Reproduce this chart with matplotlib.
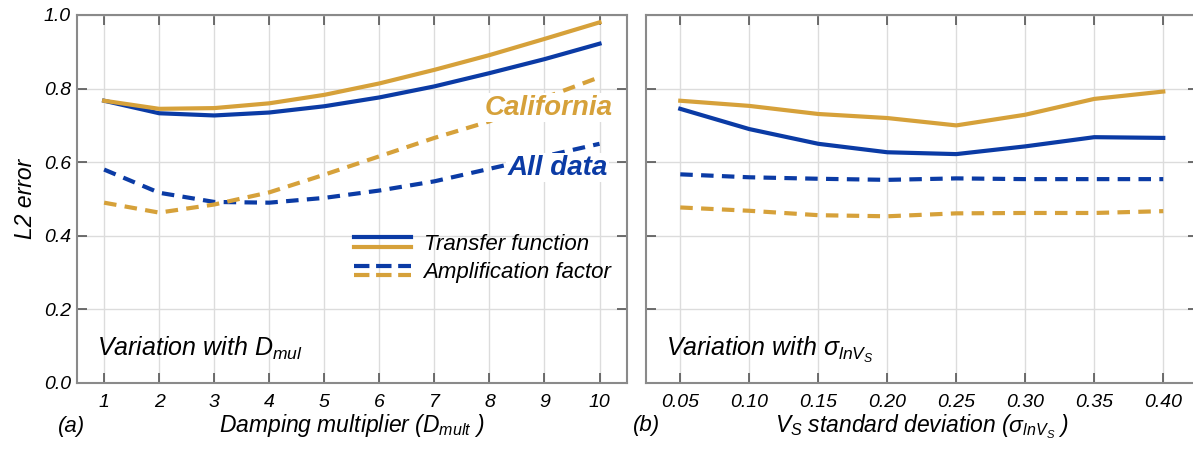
import matplotlib

matplotlib.use("Agg")
import matplotlib.pyplot as plt
from matplotlib.legend_handler import HandlerBase
from matplotlib.lines import Line2D


# damping multiplier sweep
damping_mult = [1, 2, 3, 4, 5, 6, 7, 8, 9, 10]
tf_all_damping = [0.767, 0.733, 0.727, 0.735, 0.752, 0.776, 0.806, 0.842, 0.880, 0.922]
tf_cal_damping = [0.767, 0.745, 0.747, 0.760, 0.783, 0.814, 0.851, 0.891, 0.935, 0.980]
af_all_damping = [0.580, 0.517, 0.492, 0.490, 0.503, 0.523, 0.548, 0.582, 0.616, 0.650]
af_cal_damping = [0.490, 0.463, 0.485, 0.518, 0.566, 0.616, 0.666, 0.711, 0.775, 0.831]

# Vs standard deviation sweep
vs_sigma = [0.05, 0.10, 0.15, 0.20, 0.25, 0.30, 0.35, 0.40]
tf_all_sigma = [0.745, 0.690, 0.650, 0.627, 0.622, 0.643, 0.668, 0.666]
tf_cal_sigma = [0.767, 0.753, 0.731, 0.720, 0.700, 0.729, 0.772, 0.792]
af_all_sigma = [0.567, 0.559, 0.555, 0.552, 0.556, 0.554, 0.554, 0.554]
af_cal_sigma = [0.477, 0.468, 0.456, 0.453, 0.461, 0.462, 0.462, 0.467]

y_ticks = [0.0, 0.2, 0.4, 0.6, 0.8, 1.0]

BLUE = "#0B3BA5"
GOLD = "#D6A13A"
DASH = (0, (3, 2))

plt.rcParams["font.family"] = ["Liberation Sans", "DejaVu Sans"]
plt.rcParams["font.style"] = "italic"
plt.rcParams["mathtext.fontset"] = "custom"
plt.rcParams["mathtext.it"] = "Liberation Sans:italic"
plt.rcParams["mathtext.rm"] = "Liberation Sans"
plt.rcParams["mathtext.sf"] = "Liberation Sans:italic"

SIGMA_LNVS = r"$\mathrm{\sigma}_{lnV_S}$"


class StackedLines(HandlerBase):
    """Legend entry drawn as two short lines, one above the other."""

    def create_artists(self, legend, orig_handle, xdescent, ydescent,
                       width, height, fontsize, trans):
        artists = []
        for i, line in enumerate(orig_handle):
            y = height * (0.8 - 0.6 * i) - ydescent
            artists.append(Line2D(
                [-xdescent, width - xdescent], [y, y],
                color=line.get_color(), linestyle=line.get_linestyle(),
                linewidth=line.get_linewidth(), transform=trans,
            ))
        return artists


def style_axis(axis, x_ticks, x_labels, x_range):
    axis.set_xlim(*x_range)
    axis.set_ylim(0, 1)
    axis.set_xticks(x_ticks)
    axis.set_xticklabels(x_labels)
    axis.set_yticks(y_ticks)
    axis.grid(color="#DCDCDC", linewidth=1.0)
    axis.set_axisbelow(True)
    axis.tick_params(direction="in", length=7, width=1.2, color="#555555",
                     top=True, right=True, labelsize=14)
    axis.tick_params(axis="x", pad=8)
    axis.tick_params(axis="y", pad=4)
    for spine in axis.spines.values():
        spine.set_color("#8A8A8A")
        spine.set_linewidth(1.5)


figure = plt.figure(figsize=(11.93, 4.49), dpi=100)
ax_a = figure.add_axes([0.0642, 0.1470, 0.4614, 0.8196])
ax_b = figure.add_axes([0.5413, 0.1470, 0.4627, 0.8196])

tf_blue, = ax_a.plot(damping_mult, tf_all_damping, color=BLUE, lw=3)
tf_gold, = ax_a.plot(damping_mult, tf_cal_damping, color=GOLD, lw=3)
af_blue, = ax_a.plot(damping_mult, af_all_damping, color=BLUE, lw=3, linestyle=DASH)
af_gold, = ax_a.plot(damping_mult, af_cal_damping, color=GOLD, lw=3, linestyle=DASH)

ax_b.plot(vs_sigma, tf_all_sigma, color=BLUE, lw=3)
ax_b.plot(vs_sigma, tf_cal_sigma, color=GOLD, lw=3)
ax_b.plot(vs_sigma, af_all_sigma, color=BLUE, lw=3, linestyle=DASH)
ax_b.plot(vs_sigma, af_cal_sigma, color=GOLD, lw=3, linestyle=DASH)

style_axis(ax_a, damping_mult, [str(d) for d in damping_mult], (0.5, 10.5))
style_axis(ax_b, vs_sigma, [f"{s:.2f}" for s in vs_sigma], (0.025, 0.425))
ax_a.set_yticklabels([f"{v:.1f}" for v in y_ticks])
ax_b.set_yticklabels([])

ax_a.set_ylabel("L2 error", fontsize=16.5, labelpad=5)
ax_a.set_xlabel("Damping multiplier ($D_{mult}$ )", fontsize=16.5, labelpad=1)
ax_b.set_xlabel(r"$V_S$ standard deviation (" + SIGMA_LNVS + " )",
                fontsize=16.5, labelpad=1)

ax_a.text(0.037, 0.075, "Variation with $D_{mul}$", transform=ax_a.transAxes,
          fontsize=18, ha="left", va="baseline")
ax_b.text(0.037, 0.075, "Variation with " + SIGMA_LNVS, transform=ax_b.transAxes,
          fontsize=18, ha="left", va="baseline")

ax_a.text(0.973, 0.748, "California", transform=ax_a.transAxes, color=GOLD,
          fontsize=20, fontweight="bold", ha="right", va="center",
          bbox={"facecolor": "white", "edgecolor": "none", "pad": 1})
ax_a.text(0.9655, 0.585, "All data", transform=ax_a.transAxes, color=BLUE,
          fontsize=20, fontweight="bold", ha="right", va="center",
          bbox={"facecolor": "white", "edgecolor": "none", "pad": 1})

ax_a.legend(
    [(tf_blue, tf_gold), (af_blue, af_gold)],
    ["Transfer function", "Amplification factor"],
    handler_map={tuple: StackedLines()},
    loc="upper left", bbox_to_anchor=(0.487, 0.43),
    frameon=False, fontsize=16, handlelength=2.6, handletextpad=0.55,
    labelspacing=0.35, borderaxespad=0,
)

figure.text(0.060, 0.051, "(a)", fontsize=16, ha="center", va="center")
figure.text(0.542, 0.053, "(b)", fontsize=16, ha="center", va="center")

figure.savefig("out.png", dpi=100)
plt.close(figure)
